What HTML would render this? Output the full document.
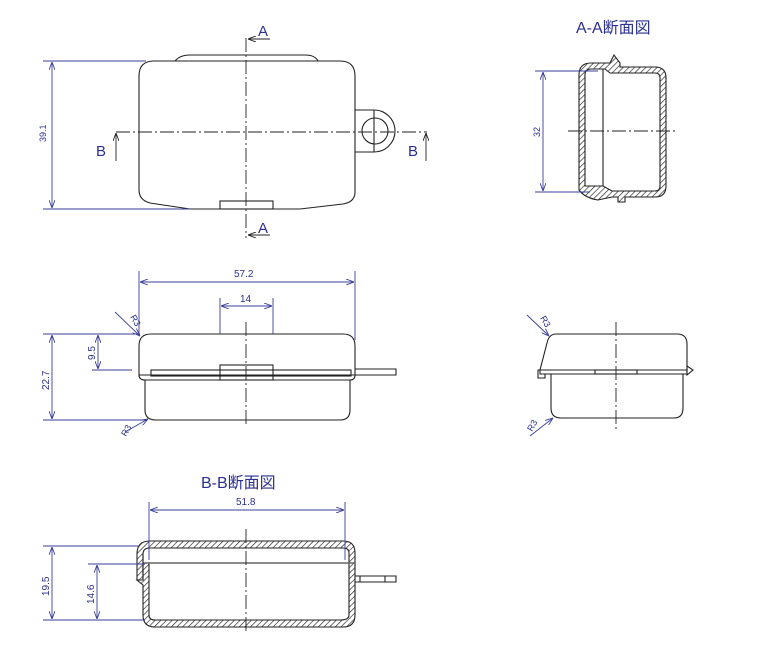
<!DOCTYPE html>
<html><head><meta charset="utf-8"><style>
html,body{margin:0;padding:0;background:#fff;width:773px;height:655px;overflow:hidden}
svg{display:block}
text{font-family:"Liberation Sans","Noto Sans CJK JP",sans-serif;fill:#2b2f8f}
.k{fill:none;stroke:#222;stroke-width:1.1}
.d{fill:none;stroke:#3a3f9a;stroke-width:0.9}
.c{fill:none;stroke:#222;stroke-width:0.9;stroke-dasharray:14 3 2 3}
.h{fill:url(#hat);stroke:#222;stroke-width:1.1}
</style></head><body>
<svg width="773" height="655" viewBox="0 0 773 655" xmlns="http://www.w3.org/2000/svg">
<defs>
<pattern id="hat" width="4" height="4" patternUnits="userSpaceOnUse" patternTransform="rotate(45)">
<rect width="4" height="4" fill="#fff"/><line x1="0" y1="0" x2="0" y2="4" stroke="#222" stroke-width="1.3"/></pattern>
<marker id="ar" markerWidth="8" markerHeight="6" refX="8" refY="3" orient="auto" markerUnits="userSpaceOnUse"><path d="M0,0 L8,3 L0,6" fill="none" stroke="#3a3f9a" stroke-width="0.9"/></marker>
<marker id="ak" markerWidth="8" markerHeight="6" refX="8" refY="3" orient="auto" markerUnits="userSpaceOnUse"><path d="M0,0 L8,3 L0,6" fill="none" stroke="#222" stroke-width="0.9"/></marker>
</defs>

<!-- TOP VIEW -->
<path class="k" d="M175,61 Q180,55 190,55 L305,55 Q315,55 318,61"/>
<path class="k" d="M154,61 L340,61 Q355,61 355,76 L355,192 Q355,202 343,204 L300,209 L190,209 L150,203 Q139,200 139,190 L139,76 Q139,61 154,61 Z"/>
<rect class="k" x="220" y="201" width="53" height="8"/>
<path class="k" d="M355,110 L374,110 A21,21 0 0 1 374,152 L355,152"/>
<circle class="k" cx="375" cy="131" r="13"/>
<line class="k" x1="374" y1="110" x2="374" y2="152" stroke-width="0.7"/>
<line class="c" x1="246" y1="38" x2="246" y2="238"/>
<line class="c" x1="116" y1="132" x2="427" y2="132"/>
<line x1="270" y1="39" x2="248" y2="39" stroke="#222" stroke-width="0.9" marker-end="url(#ak)"/>
<line x1="270" y1="235" x2="248" y2="235" stroke="#222" stroke-width="0.9" marker-end="url(#ak)"/>
<line x1="116" y1="161" x2="116" y2="133" stroke="#222" stroke-width="0.9" marker-end="url(#ak)"/>
<line x1="426" y1="161" x2="426" y2="133" stroke="#222" stroke-width="0.9" marker-end="url(#ak)"/>
<text x="258" y="36" font-size="15">A</text>
<text x="258" y="233" font-size="15">A</text>
<text x="96" y="156" font-size="15">B</text>
<text x="408" y="156" font-size="15">B</text>
<line class="d" x1="43" y1="61" x2="146" y2="61"/>
<line class="d" x1="43" y1="209" x2="190" y2="209"/>
<line class="d" x1="52" y1="135" x2="52" y2="62" marker-end="url(#ar)"/>
<line class="d" x1="52" y1="135" x2="52" y2="208" marker-end="url(#ar)"/>
<text x="0" y="0" font-size="9" transform="translate(46,142) rotate(-90)">39.1</text>

<!-- A-A SECTION -->
<text x="576" y="33" font-size="16">A-A断面図</text>
<path class="h" d="M591,63 L610,63 L614,55 L620,63 L620,67 L655,67 Q666,67 666,78 L666,186 Q666,197 655,197 L625,197 L625,202 L618,202 L618,197 L612,197 L598,200 Q585,198 579,190 L579,75 Q579,63 591,63 Z M591,69 Q585,69 585,75 L585,186 L603,186 L612,191 L655,191 Q660,191 660,186 L660,78 Q660,73 655,73 L610,73 L605,69 Z"/>
<line class="k" x1="603" y1="69" x2="603" y2="186"/>
<line class="c" x1="568" y1="131" x2="677" y2="131"/>
<line class="d" x1="535" y1="71" x2="598" y2="71"/>
<line class="d" x1="535" y1="192" x2="590" y2="192"/>
<line class="d" x1="543" y1="131" x2="543" y2="72" marker-end="url(#ar)"/>
<line class="d" x1="543" y1="131" x2="543" y2="191" marker-end="url(#ar)"/>
<text x="0" y="0" font-size="9" transform="translate(540,137) rotate(-90)">32</text>

<!-- FRONT VIEW -->
<path class="k" d="M151,334 L343,334 Q355,334 355,346 L355,375 L139,375 L139,346 Q139,334 151,334 Z"/>
<path class="k" d="M145,380 L145,410 Q145,420 156,420 L340,420 Q350,420 350,410 L350,380"/>
<path class="k" d="M139,375 Q139,380 145,380 L350,380 Q355,380 355,375"/>
<rect class="k" x="151" y="370" width="200" height="6" stroke-width="0.8"/>
<rect class="k" x="220" y="365" width="53" height="15"/>
<path class="k" d="M355,369 L396,369 L396,375 L355,375"/>
<line class="c" x1="246" y1="322" x2="246" y2="425"/>
<line class="d" x1="139" y1="271" x2="139" y2="334"/>
<line class="d" x1="355" y1="271" x2="355" y2="340"/>
<line class="d" x1="247" y1="282" x2="140" y2="282" marker-end="url(#ar)"/>
<line class="d" x1="247" y1="282" x2="354" y2="282" marker-end="url(#ar)"/>
<text x="234" y="277" font-size="10">57.2</text>
<line class="d" x1="220" y1="298" x2="220" y2="334"/>
<line class="d" x1="273" y1="298" x2="273" y2="334"/>
<line class="d" x1="246" y1="306" x2="221" y2="306" marker-end="url(#ar)"/>
<line class="d" x1="246" y1="306" x2="272" y2="306" marker-end="url(#ar)"/>
<text x="240" y="302" font-size="10">14</text>
<line class="d" x1="43" y1="334" x2="140" y2="334"/>
<line class="d" x1="43" y1="420" x2="146" y2="420"/>
<line class="d" x1="92" y1="370" x2="132" y2="370"/>
<line class="d" x1="52" y1="377" x2="52" y2="335" marker-end="url(#ar)"/>
<line class="d" x1="52" y1="377" x2="52" y2="419" marker-end="url(#ar)"/>
<text x="0" y="0" font-size="10" transform="translate(49,390) rotate(-90)">22.7</text>
<line class="d" x1="98" y1="352" x2="98" y2="335" marker-end="url(#ar)"/>
<line class="d" x1="98" y1="352" x2="98" y2="369" marker-end="url(#ar)"/>
<text x="0" y="0" font-size="10" transform="translate(95,360) rotate(-90)">9.5</text>
<line class="d" x1="115" y1="312" x2="140" y2="336" marker-end="url(#ar)"/>
<text x="0" y="0" font-size="9" transform="translate(130,317) rotate(60)">R3</text>
<line class="d" x1="125" y1="432" x2="148" y2="419" marker-end="url(#ar)"/>
<text x="0" y="0" font-size="9" transform="translate(126,437) rotate(-60)">R3</text>

<!-- SIDE VIEW -->
<path class="k" d="M556,334 L677,334 Q687,334 687,344 L687,370 L540,370 L547,343 Q549,334 556,334 Z"/>
<path class="k" d="M540,370 L538,370 L538,378 L545,378 L545,374"/>
<path class="k" d="M687,366 L693,370 L687,375 Z"/>
<path class="k" d="M540,370 L540,374 L687,374 L687,370"/>
<path class="k" d="M551,374 L551,408 Q551,418 561,418 L674,418 Q683,418 683,408 L683,374"/>
<rect class="k" x="595" y="370" width="42" height="4" stroke-width="0.8"/>
<line class="c" x1="616" y1="322" x2="616" y2="432"/>
<line class="d" x1="527" y1="315" x2="549" y2="336" marker-end="url(#ar)"/>
<text x="0" y="0" font-size="9" transform="translate(540,318) rotate(60)">R3</text>
<line class="d" x1="530" y1="436" x2="553" y2="418" marker-end="url(#ar)"/>
<text x="0" y="0" font-size="9" transform="translate(532,432) rotate(-60)">R3</text>

<!-- B-B SECTION -->
<text x="201" y="488" font-size="16">B-B断面図</text>
<path class="h" d="M150,541 L343,541 Q355,541 355,553 L355,565 L349,565 L349,553 Q349,548 343,548 L150,548 Q143,548 143,554 L143,565 L143,580 L137,580 L137,554 Q137,541 150,541 Z"/>
<path class="h" d="M143,563 L149,563 L149,615 Q149,620 155,620 L340,620 Q349,620 349,615 L349,563 L355,563 L355,582 L355,615 Q355,627 343,627 L155,627 Q143,627 143,615 L143,585 L137,580 L143,580 Z"/>
<line x1="143" y1="563" x2="355" y2="563" stroke="#666" stroke-width="1.4"/>
<line class="k" x1="143" y1="555" x2="143" y2="580" stroke-width="0.7"/>
<path class="k" d="M355,576 L396,576 L396,582 L355,582"/>
<line class="k" x1="385" y1="576" x2="385" y2="582"/>
<line class="k" x1="360" y1="576" x2="360" y2="582"/>
<line class="c" x1="246" y1="529" x2="246" y2="631"/>
<line class="d" x1="149" y1="502" x2="149" y2="560"/>
<line class="d" x1="345" y1="502" x2="345" y2="560"/>
<line class="d" x1="247" y1="510" x2="150" y2="510" marker-end="url(#ar)"/>
<line class="d" x1="247" y1="510" x2="344" y2="510" marker-end="url(#ar)"/>
<text x="236" y="505" font-size="10">51.8</text>
<line class="d" x1="43" y1="546" x2="140" y2="546"/>
<line class="d" x1="43" y1="620" x2="145" y2="620"/>
<line class="d" x1="88" y1="564" x2="145" y2="564"/>
<line class="d" x1="52" y1="583" x2="52" y2="547" marker-end="url(#ar)"/>
<line class="d" x1="52" y1="583" x2="52" y2="619" marker-end="url(#ar)"/>
<text x="0" y="0" font-size="10" transform="translate(49,596) rotate(-90)">19.5</text>
<line class="d" x1="97" y1="592" x2="97" y2="565" marker-end="url(#ar)"/>
<line class="d" x1="97" y1="592" x2="97" y2="619" marker-end="url(#ar)"/>
<text x="0" y="0" font-size="10" transform="translate(94,604) rotate(-90)">14.6</text>
</svg>
</body></html>
